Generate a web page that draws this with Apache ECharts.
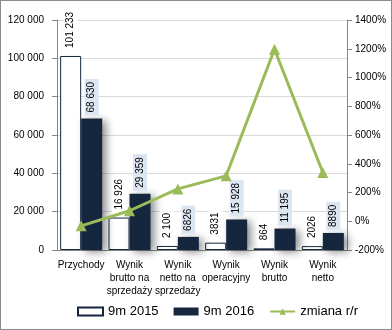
<!DOCTYPE html>
<html><head><meta charset="utf-8">
<script src="https://cdn.jsdelivr.net/npm/echarts@6/dist/echarts.min.js"></script>
<style>
html,body{margin:0;padding:0;background:#fff;}
#wrap{position:relative;width:392px;height:330px;}
#c{position:absolute;left:0;top:0;width:392px;height:330px;}
#b{position:absolute;left:0;top:0;width:392px;height:330px;box-sizing:border-box;border:1px solid #8c8c8c;pointer-events:none;}
</style></head>
<body><div id="wrap"><div id="c"></div><div id="b"></div></div>
<script>
const categories = ['Przychody','Wynik\nbrutto na\nsprzedaży','Wynik\nnetto na\nsprzedaży','Wynik\noperacyjny','Wynik\nbrutto','Wynik\nnetto'];
const values2015 = [101233, 16926, 2100, 3831, 864, 2026];
const values2016 = [68630, 29359, 6826, 15928, 11195, 8890];
const labels2015 = ['101 233','16 926','2 100','3831','864','2026'];
const labels2016 = ['68 630','29 359','6826','15 928','11 195','8890'];
const changePct = [-32, 73, 225, 316, 1196, 339];
const leftTicks = ['0','20 000','40 000','60 000','80 000','100 000','120 000'];
const seriesNames = ['9m 2015','9m 2016','zmiana r/r'];

const FONT = 'Liberation Sans';
const chart = echarts.init(document.getElementById('c'));
chart.setOption({
  animation: false,
  textStyle: {fontFamily: FONT},
  grid: {left: 57, right: 45, top: 20, bottom: 80},
  legend: {
    bottom: 7, left: 72, itemWidth: 25, itemHeight: 8, itemGap: 15,
    textStyle: {fontFamily: FONT, fontSize: 13, color: '#000'},
    data: [
      {name: seriesNames[0], icon: 'rect'},
      {name: seriesNames[1], icon: 'rect'},
      {name: seriesNames[2]}
    ]
  },
  xAxis: {
    type: 'category', data: categories,
    axisLine: {lineStyle: {color: '#868686'}},
    axisTick: {show: false},
    axisLabel: {interval: 0, color: '#000', fontSize: 10, lineHeight: 13, margin: 9, fontFamily: FONT}
  },
  yAxis: [{
    type: 'value', min: 0, max: 120000, interval: 20000,
    axisLine: {show: true, lineStyle: {color: '#868686'}},
    axisTick: {show: true, length: 5, lineStyle: {color: '#868686'}},
    axisLabel: {color: '#000', fontSize: 10, margin: 13, fontFamily: FONT,
      formatter: v => leftTicks[Math.round(v / 20000)]},
    splitLine: {lineStyle: {color: '#d9d9d9'}}
  }, {
    type: 'value', min: -200, max: 1400, interval: 200,
    axisLine: {show: true, lineStyle: {color: '#868686'}},
    axisTick: {show: true, length: 5, lineStyle: {color: '#868686'}},
    axisLabel: {color: '#000', fontSize: 10, margin: 8, fontFamily: FONT, formatter: v => String(v) + '%'},
    splitLine: {show: false}
  }],
  series: [{
    name: seriesNames[0], type: 'bar', data: values2015, barGap: '0%', barCategoryGap: '13%',
    itemStyle: {color: '#fff', borderColor: '#15263f', borderWidth: 1},
    label: {show: true, position: 'top', rotate: 90, align: 'left', verticalAlign: 'middle', distance: 5,
      fontSize: 10, color: '#000', fontFamily: FONT, backgroundColor: '#fff', padding: [2, 3, 2, 3],
      formatter: p => labels2015[p.dataIndex]},
    z: 2
  }, {
    name: seriesNames[1], type: 'bar', data: values2016,
    itemStyle: {color: '#15263f', shadowBlur: 8, shadowColor: 'rgba(0,0,0,0.45)', shadowOffsetX: 4, shadowOffsetY: 2},
    label: {show: true, position: 'top', rotate: 90, align: 'left', verticalAlign: 'middle', distance: 3,
      fontSize: 10, color: '#000', fontFamily: FONT, backgroundColor: '#dce6f2', padding: [2, 3, 2, 3],
      formatter: p => labels2016[p.dataIndex]},
    z: 2
  }, {
    name: seriesNames[2], type: 'line', yAxisIndex: 1, data: changePct,
    symbol: 'triangle', symbolSize: 11,
    lineStyle: {color: '#9bbb59', width: 3},
    itemStyle: {color: '#9bbb59'},
    z: 5
  }]
});
</script></body></html>
